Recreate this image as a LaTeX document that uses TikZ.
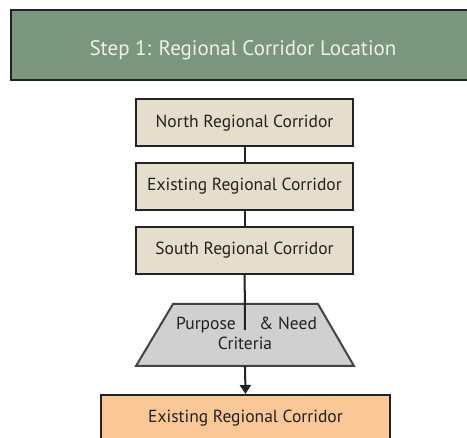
\documentclass[tikz,border=0pt]{standalone}
\usepackage{fontspec}
\setmainfont{PT Sans}
\usetikzlibrary{arrows.meta}
\definecolor{headgreen}{RGB}{122,150,124}
\definecolor{headtext}{RGB}{236,241,236}
\definecolor{beige}{RGB}{230,221,204}
\definecolor{critgray}{RGB}{208,208,208}
\definecolor{finalorange}{RGB}{250,200,150}
\definecolor{ink}{RGB}{34,34,34}
\tikzset{
  headbox/.style={draw=ink, line width=2.6pt, fill=headgreen,
    minimum width=464pt, minimum height=70pt, inner sep=0pt},
  headlabel/.style={text=headtext, inner sep=0pt, font=\fontsize{21}{24}\selectfont},
  corbox/.style={draw=ink, line width=2pt, fill=beige, text=ink,
    minimum width=217pt, minimum height=47pt, inner sep=0pt,
    font=\fontsize{17.5}{20}\selectfont},
  finalbox/.style={corbox, fill=finalorange, minimum width=289pt},
  critshape/.style={draw=ink!85, line width=2pt, fill=critgray, line join=miter},
  crittext/.style={text=ink, inner sep=0pt, font=\fontsize{17.5}{20}\selectfont},
  link/.style={draw=ink, line width=2pt}
}
\begin{document}
\begin{tikzpicture}[x=1pt,y=-1pt]
\useasboundingbox (0,0) rectangle (467,438);
\clip (0,0) rectangle (467,438);
\node[headbox] (head) at (243,45) {};
\node[headlabel, anchor=base] (headtxt) at (243,56) {Step 1: Regional Corridor Location};
\node[corbox] (north) at (244.5,123) {North Regional Corridor};
\node[corbox] (exist) at (244.5,186.5) {Existing Regional Corridor};
\node[corbox] (south) at (244.5,250.5) {South Regional Corridor};
\path[critshape] (173,304) -- (318,304) -- (354,366) -- (136,366) -- cycle;
\coordinate (critbot) at (245,366);
\node[crittext, anchor=base east] (purp) at (236,330) {Purpose};
\node[crittext, anchor=base west] (need) at (259,330) {\& Need};
\node[crittext, anchor=base] (crit2) at (245,350) {Criteria};
\coordinate (stop) at (245,330);
\node[finalbox] (final) at (245.5,418.5) {Existing Regional Corridor};
\draw[link] (north) -- (exist);
\draw[link] (exist) -- (south);
\draw[link] (south) -- (stop);
\draw[link, -{Triangle[width=11pt,length=9pt]}] (critbot) -- (final.north);
\end{tikzpicture}
\end{document}
